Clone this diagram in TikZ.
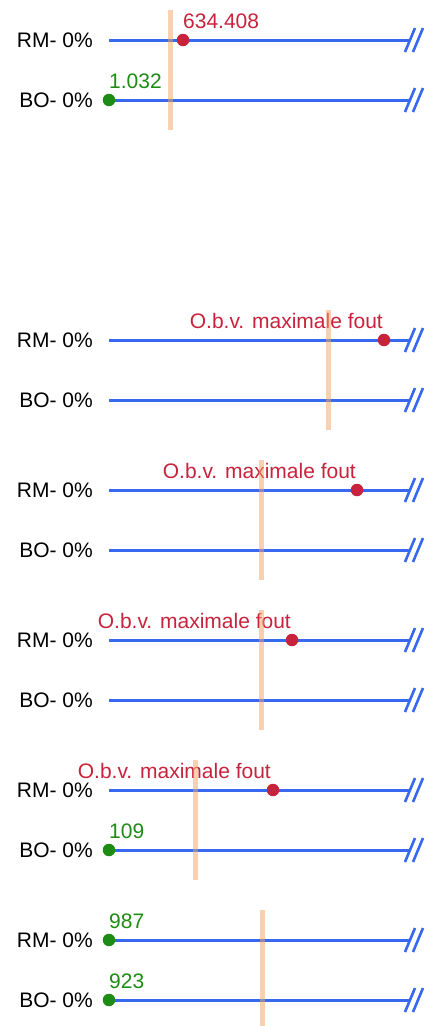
\documentclass[tikz,border=0pt]{standalone}
\usepackage{fontspec}
\setmainfont{Liberation Sans}
\definecolor{lineblue}{RGB}{55,105,240}
\definecolor{dotred}{RGB}{200,35,60}
\definecolor{dotgreen}{RGB}{30,140,20}
\definecolor{barorange}{RGB}{245,165,100}
\begin{document}
\begin{tikzpicture}[x=1pt,y=-1pt,
  track/.style={draw=lineblue, line width=3pt},
  brk/.style={draw=lineblue, line width=2.6pt},
  rowlabel/.style={anchor=base east, font=\fontsize{21}{25}\selectfont, text=black, inner sep=0pt},
  reddot/.style={circle, fill=dotred, minimum size=12.5pt, inner sep=0pt},
  greendot/.style={circle, fill=dotgreen, minimum size=12.5pt, inner sep=0pt},
  redval/.style={font=\fontsize{21}{25}\selectfont, text=dotred, inner sep=0pt},
  greenval/.style={font=\fontsize{21}{25}\selectfont, text=dotgreen, inner sep=0pt, anchor=base west},
  marker/.style={fill=barorange, fill opacity=0.5}]
\useasboundingbox (0,0) rectangle (436,1026);
\fill[white] (0,0) rectangle (436,1026);
\foreach \n/\y/\t in {r1/40/RM,b1/100/BO,r2/340/RM,b2/400/BO,r3/490/RM,b3/550/BO,r4/640/RM,b4/700/BO,r5/790/RM,b5/850/BO,r6/940/RM,b6/1000/BO}{
  \coordinate (\n-s) at (109,\y);
  \coordinate (\n-e) at (410,\y);
  \node[rowlabel] (\n-l) at (93,\y+7.5) {\t- 0\%};
  \draw[track] (\n-s) -- (\n-e);
  \draw[brk] ([shift={(-5,12)}]\n-e) -- ([shift={(5,-12)}]\n-e);
  \draw[brk] ([shift={(3,12)}]\n-e) -- ([shift={(13,-12)}]\n-e);
}
% group 1
\node[reddot] (d1) at (183,40) {};
\node[redval, anchor=base west] (v1) at (183,28) {634.408};
\node[greendot] (g1) at (109,100) {};
\node[greenval] (w1) at (109,88) {1.032};
% group 2
\node[reddot] (d2) at (384,340) {};
\node[redval, anchor=base east] (v2) at (383,328) {O.b.v. maximale fout};
% group 3
\node[reddot] (d3) at (357,490) {};
\node[redval, anchor=base east] (v3) at (356,478) {O.b.v. maximale fout};
% group 4
\node[reddot] (d4) at (292,640) {};
\node[redval, anchor=base east] (v4) at (291,628) {O.b.v. maximale fout};
% group 5
\node[reddot] (d5) at (273,790) {};
\node[redval, anchor=base east] (v5) at (271,778) {O.b.v. maximale fout};
\node[greendot] (g5) at (109,850) {};
\node[greenval] (w5) at (109,838) {109};
% group 6
\node[greendot] (g6a) at (109,940) {};
\node[greenval] (w6a) at (109,928) {987};
\node[greendot] (g6b) at (109,1000) {};
\node[greenval] (w6b) at (109,988) {923};
% markers
\fill[marker] (167.5,10) rectangle (172.5,130);
\fill[marker] (326,310) rectangle (331,430);
\fill[marker] (259,460) rectangle (264,580);
\fill[marker] (259,610) rectangle (264,730);
\fill[marker] (193,760) rectangle (198,880);
\fill[marker] (259.5,910) rectangle (264.5,1030);
\end{tikzpicture}
\end{document}
